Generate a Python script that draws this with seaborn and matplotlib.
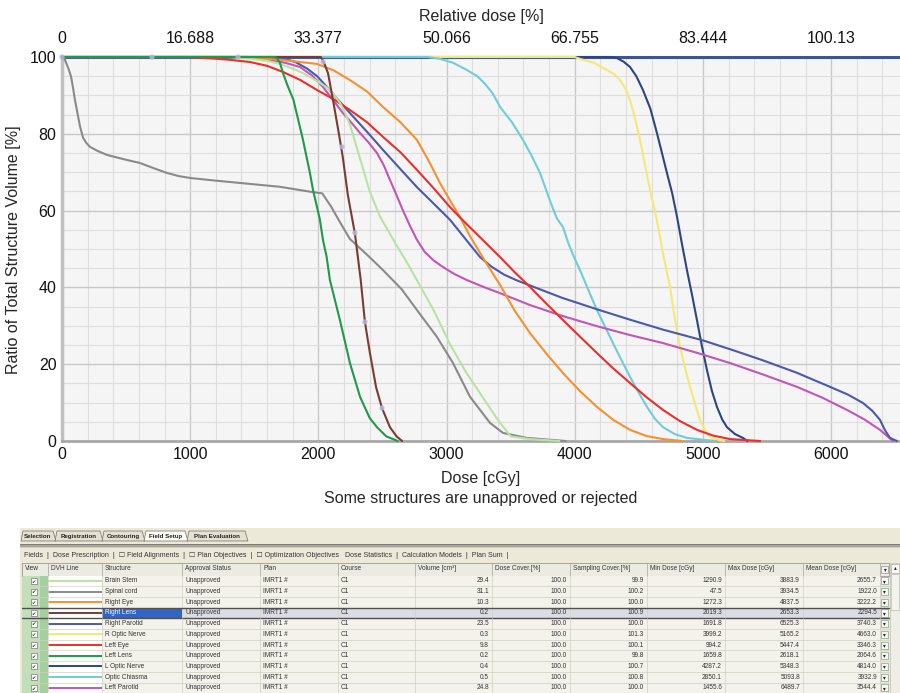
import matplotlib
matplotlib.use("Agg")
import pandas as pd
import matplotlib.pyplot as plt
import seaborn as sns
from matplotlib.patches import Rectangle, Polygon
from matplotlib.ticker import MultipleLocator

# ---------------- data ----------------
structures = ["Brain Stem", "Spinal cord", "Right Eye", "Right Lens", "Right Parotid",
              "R Optic Nerve", "Left Eye", "Left Lens", "L Optic Nerve", "Optic Chiasma",
              "Left Parotid"]
line_colors = ["#b9e2a5", "#8a8a8a", "#f7902f", "#7b3a35", "#4a58b0",
               "#f3e977", "#e8302c", "#1f9a48", "#2c4585", "#70cdd8", "#c455b5"]

brain_stem_dose = [0, 1290, 1450, 1600, 1700, 1800, 1880, 1950, 2010, 2070, 2120, 2170, 2210,
                   2250, 2290, 2330, 2400, 2480, 2600, 2700, 2800, 2900, 3030, 3150, 3280,
                   3400, 3500, 3650, 3880]
brain_stem_vol = [100, 100, 99.6, 99, 98.2, 97, 95.8, 94.5, 93.3, 92, 90.3, 88, 85.3,
                  82, 77.5, 73, 65, 58.5, 51.5, 46, 40, 34, 25, 18, 11.5,
                  5.5, 1.2, 0.5, 0]

spinal_cord_dose = [0, 20, 50, 70, 86, 100, 117, 140, 164, 190, 218, 280, 351, 480, 608, 719,
                    819, 910, 998, 1200, 1388, 1700, 1958, 2030, 2100, 2168, 2246, 2380, 2504,
                    2650, 2769, 2925, 3050, 3183, 3339, 3440, 3627, 3930]
spinal_cord_vol = [100, 99.5, 97, 95, 92, 89, 86, 82, 79, 77.6, 76.6, 75.5, 74.5, 73.4, 72.4, 71,
                   69.8, 69, 68.5, 67.8, 67.2, 66.2, 64.8, 64.5, 61, 57, 52.6, 48.5, 44.5,
                   39.5, 34.1, 27.1, 20.3, 11.5, 4.7, 2.1, 0.8, 0]

right_eye_dose = [0, 1272, 1500, 1724, 1989, 2120, 2246, 2380, 2504, 2640, 2769, 2860, 2948,
                  3030, 3105, 3180, 3261, 3340, 3420, 3530, 3651, 3780, 3908, 4040, 4173,
                  4300, 4431, 4560, 4688, 4838]
right_eye_vol = [100, 100, 99.8, 99.2, 98.2, 96.5, 94, 91, 87, 83, 78.4, 73, 67.2,
                 62.5, 58.3, 53.5, 49, 44.7, 40.5, 34, 28.1, 22.7, 17.7, 13, 8.9,
                 5.5, 2.9, 1.3, 0.5, 0]

right_lens_dose = [0, 2019, 2040, 2075, 2114, 2160, 2190, 2230, 2285, 2330, 2363, 2402, 2450,
                   2496, 2558, 2610, 2653]
right_lens_vol = [100, 100, 98.8, 95.8, 88.8, 80, 74, 64, 54, 42, 31, 22.9, 14,
                  8.6, 3.6, 1.2, 0]

right_parotid_dose = [0, 1692, 1724, 1820, 1911, 1990, 2067, 2150, 2246, 2380, 2504, 2640, 2769,
                      2900, 3027, 3150, 3261, 3350, 3450, 3550, 3651, 3900, 4173, 4430, 4688,
                      5000, 5230, 5468, 5730, 5991, 6130, 6248, 6320, 6381, 6420, 6459, 6513]
right_parotid_vol = [100, 100, 99.7, 98.7, 97, 95, 92.2, 89, 85.4, 80.5, 75.8, 70.8, 66.1,
                     61.8, 57.6, 52.5, 47.9, 45.4, 43.3, 41.8, 40.5, 37.3, 34.3, 31.6, 29,
                     26.2, 23.7, 21, 17.8, 14.1, 12.1, 9.9, 7.9, 5.5, 2.8, 0.8, 0]

r_optic_nerve_dose = [0, 3999, 4041, 4150, 4251, 4310, 4352, 4395, 4431, 4470, 4509, 4550, 4587,
                      4640, 4690, 4743, 4780, 4821, 4860, 4899, 4940, 4977, 5020, 5055, 5133,
                      5165]
r_optic_nerve_vol = [100, 100, 99.5, 98.5, 96.6, 95.5, 94, 91.8, 88.8, 84, 78.4, 71.5, 65.4,
                     57.6, 48.5, 40.1, 32, 24.5, 19, 14.1, 9.5, 5.5, 2.6, 1.0, 0.2,
                     0]

left_eye_dose = [0, 994, 1131, 1300, 1466, 1600, 1724, 1860, 1989, 2120, 2246, 2380, 2504,
                 2640, 2769, 2900, 3027, 3150, 3284, 3417, 3530, 3651, 3780, 3908, 4040,
                 4173, 4300, 4431, 4560, 4688, 4820, 4953, 5080, 5211, 5447]
left_eye_vol = [100, 100, 99.7, 99.3, 98.7, 97.7, 96.1, 94, 91.4, 89, 86.2, 83, 79.2,
                75.2, 70.6, 65.8, 60.9, 56.7, 52.3, 47.9, 44, 40.1, 35.7, 31.5, 27.2,
                22.9, 18.9, 15.1, 11.4, 8.1, 5.2, 2.9, 1.4, 0.5, 0]

left_lens_dose = [0, 1660, 1677, 1700, 1724, 1760, 1804, 1840, 1880, 1934, 1958, 2012, 2036,
                  2064, 2090, 2168, 2246, 2325, 2400, 2457, 2530, 2618]
left_lens_vol = [100, 100, 99.7, 98.5, 95.8, 92.5, 89, 84, 78.4, 69.8, 65.4, 57.6, 52.3,
                 48, 41.9, 31.5, 20.3, 11.5, 6, 3.6, 1.2, 0]

l_optic_nerve_dose = [0, 4287, 4330, 4380, 4431, 4480, 4532, 4590, 4641, 4680, 4719, 4760, 4797,
                      4835, 4875, 4915, 4953, 4990, 5031, 5070, 5109, 5150, 5187, 5250, 5312,
                      5348]
l_optic_nerve_vol = [100, 100, 99.7, 98.8, 97.4, 95, 91.4, 86.5, 80.2, 75, 69.8, 64.5, 58.5,
                     51.5, 44.5, 38, 31.5, 25, 18.5, 13, 8.9, 5.6, 3.6, 1.8, 0.8,
                     0]

optic_chiasma_dose = [0, 2850, 2950, 3050, 3159, 3240, 3300, 3360, 3417, 3510, 3596, 3660, 3729,
                      3770, 3807, 3860, 3908, 3950, 3986, 4041, 4110, 4173, 4240, 4298, 4365,
                      4431, 4500, 4563, 4625, 4688, 4780, 4875, 5093]
optic_chiasma_vol = [100, 100, 99.5, 98.5, 96.6, 95, 93, 90.5, 87, 83, 78.4, 74.5, 69.8,
                     66, 62.5, 58, 55.7, 51.5, 48.5, 44.5, 39, 34.1, 29.5, 25.5, 21,
                     16.7, 12.5, 8.9, 5.8, 3.6, 1.8, 0.8, 0]

left_parotid_dose = [0, 1456, 1540, 1622, 1740, 1856, 1950, 2036, 2110, 2192, 2260, 2325, 2390,
                     2457, 2510, 2558, 2610, 2660, 2715, 2767, 2830, 2900, 2972, 3060, 3159,
                     3290, 3417, 3651, 3900, 4173, 4430, 4688, 4950, 5211, 5470, 5733, 5930,
                     6123, 6260, 6381, 6482]
left_parotid_vol = [100, 100, 99.7, 99.2, 98.5, 97.4, 95.2, 92.2, 89, 85.4, 82.8, 80.2, 77.8,
                    75, 71.8, 68, 64, 60, 56, 52.5, 49.2, 47, 45.3, 43.5, 41.9,
                    40.1, 38.5, 35.4, 32.6, 29.9, 27.6, 25.5, 23, 20.3, 17.3, 14.1, 11.3,
                    8.1, 5.6, 2.9, 0]

# markers along the selected structure (Right Lens)
sel_marker_dose = [0, 702, 1373, 2036, 2184, 2285, 2363, 2496]
sel_marker_vol = [100, 100, 100, 98.7, 76.6, 54.2, 31, 8.6]

x_ticks = [0, 1000, 2000, 3000, 4000, 5000, 6000]
y_ticks = [0, 20, 40, 60, 80, 100]
top_tick_labels = ["0", "16.688", "33.377", "50.066", "66.755", "83.444", "100.13"]

# table values
approval = ["Unapproved"] * 11
plan_ids = ["IMRT1 #"] * 11
courses = ["C1"] * 11
volumes = ["29.4", "31.1", "10.3", "0.2", "23.5", "0.3", "9.8", "0.2", "0.4", "0.5", "24.8"]
dose_cover = ["100.0"] * 11
sampling_cover = ["99.9", "100.2", "100.0", "100.9", "100.0", "101.3", "100.1", "99.8",
                  "100.7", "100.8", "100.0"]
min_dose = ["1290.9", "47.5", "1272.3", "2019.3", "1691.8", "3999.2", "994.2", "1659.8",
            "4287.2", "2850.1", "1455.6"]
max_dose = ["3883.9", "3934.5", "4837.5", "2653.3", "6525.3", "5165.2", "5447.4", "2618.1",
            "5348.3", "5093.8", "6489.7"]
mean_dose = ["2655.7", "1922.0", "3222.2", "2294.5", "3740.3", "4663.0", "3346.3", "2064.6",
             "4814.0", "3932.9", "3544.4"]
selected_row = 3

dvh_dose = [brain_stem_dose, spinal_cord_dose, right_eye_dose, right_lens_dose,
            right_parotid_dose, r_optic_nerve_dose, left_eye_dose, left_lens_dose,
            l_optic_nerve_dose, optic_chiasma_dose, left_parotid_dose]
dvh_vol = [brain_stem_vol, spinal_cord_vol, right_eye_vol, right_lens_vol,
           right_parotid_vol, r_optic_nerve_vol, left_eye_vol, left_lens_vol,
           l_optic_nerve_vol, optic_chiasma_vol, left_parotid_vol]

rows = []
for name, d, v in zip(structures, dvh_dose, dvh_vol):
    for di, vi in zip(d, v):
        rows.append({"structure": name, "dose": di, "vol": vi})
df = pd.DataFrame(rows)
palette = dict(zip(structures, line_colors))
draw_order = ["L Optic Nerve", "R Optic Nerve", "Optic Chiasma", "Left Parotid",
              "Right Parotid", "Right Eye", "Left Eye", "Spinal cord", "Brain Stem",
              "Right Lens", "Left Lens"]

# ---------------- style ----------------
sns.set_style("white")
plt.rcParams["font.family"] = ["Liberation Sans", "DejaVu Sans"]

W, H = 900, 693
fig = plt.figure(figsize=(9, 6.93), dpi=100)
fig.patch.set_facecolor("white")

ax = fig.add_axes([62 / W, 1 - 441 / H, 838 / W, 384 / H])
ax.set_facecolor("#f5f5f5")
sns.lineplot(data=df, x="dose", y="vol", hue="structure", hue_order=draw_order,
             palette=palette, estimator=None, sort=False, linewidth=1.5,
             legend=False, ax=ax)
for ln in ax.lines:
    ln.set_clip_on(False)
    ln.set_zorder(3)
    ln.set_solid_joinstyle("round")
sns.scatterplot(x=sel_marker_dose, y=sel_marker_vol, color="#b4b4e0", s=14,
                edgecolor="none", alpha=0.85, zorder=4, ax=ax, clip_on=False)

ax.set_xlim(0, 6537)
ax.set_ylim(0, 100)
ax.set_xticks(x_ticks)
ax.set_yticks(y_ticks)
ax.xaxis.set_minor_locator(MultipleLocator(200))
ax.yaxis.set_minor_locator(MultipleLocator(5))
ax.grid(which="major", color="#c8c8c8", linewidth=1.0, zorder=0)
ax.grid(which="minor", color="#dedede", linewidth=0.8, zorder=0)
ax.set_axisbelow(True)
ax.tick_params(which="both", length=0, labelsize=11.5, colors="#111111")
ax.tick_params(axis="x", pad=4)
ax.tick_params(axis="y", pad=4)
ax.set_xlabel("")
ax.set_ylabel("")
ax.spines["top"].set_color("#3d5591")
ax.spines["top"].set_linewidth(2.2)
ax.spines["left"].set_color("#c0c0c0")
ax.spines["left"].set_linewidth(2.5)
ax.spines["bottom"].set_color("#a8a8a8")
ax.spines["bottom"].set_linewidth(2.0)
ax.spines["right"].set_visible(False)

sec = ax.secondary_xaxis("top")
sec.set_xticks(x_ticks, labels=top_tick_labels)
sec.tick_params(length=0, pad=8, labelsize=11.5, colors="#111111")
sec.spines["top"].set_visible(False)

fig.text(481 / W, 1 - 17 / H, "Relative dose [%]", ha="center", va="center", fontsize=11.5)
fig.text(481 / W, 1 - 478 / H, "Dose [cGy]", ha="center", va="center", fontsize=11.5)
fig.text(481 / W, 1 - 499 / H, "Some structures are unapproved or rejected",
         ha="center", va="center", fontsize=11.5)
fig.text(14 / W, 1 - 250 / H, "Ratio of Total Structure Volume [%]", ha="center",
         va="center", rotation=90, fontsize=11.5)

# ---------------- table panel (screen capture look) ----------------
T0 = 526
ta = fig.add_axes([0, 0, 1, (H - T0) / H])
ta.set_xlim(0, W)
ta.set_ylim(H, T0)
ta.axis("off")

fs = 4.7
ta.add_patch(Rectangle((20, 528), 880, 165, fc="#ece9d8", ec="none"))

# tabs
tabs = [("Selection", 21, 55), ("Registration", 55, 102), ("Contouring", 102, 144),
        ("Field Setup", 144, 187), ("Plan Evaluation", 187, 247)]
for i, (lab, x0, x1) in enumerate(tabs):
    active = lab == "Field Setup"
    poly = Polygon([(x0, 541), (x0 + 2, 531), (x1 - 2, 531), (x1 + 1, 541)],
                   closed=True, fc="#fbfaf4" if active else "#e4e1d0",
                   ec="#6e6e66", lw=0.5)
    ta.add_patch(poly)
    ta.text((x0 + x1) / 2, 536.5, lab, ha="center", va="center", fontsize=4.4,
            fontweight="bold", color="#222222")
ta.add_patch(Rectangle((20, 543.5), 880, 3.5, fc="#a8a699", ec="none"))
ta.plot([20, 900], [543.5, 543.5], color="#77766c", lw=0.6)
ta.plot([20, 900], [547, 547], color="#c8c6b8", lw=0.6)

toolbar = ("Fields  |  Dose Prescription  |  \u2610 Field Alignments  |  \u2610 Plan Objectives  |"
           "  \u2610 Optimization Objectives   Dose Statistics  |  Calculation Models  |  Plan Sum  |")
ta.text(24, 555.5, toolbar, ha="left", va="center", fontsize=5.05, color="#333333")

# columns
col_x = [22, 48, 102, 182, 260, 338, 415, 492, 570, 647, 725, 803, 880, 889]
headers = ["View", "DVH Line", "Structure", "Approval Status", "Plan", "Course",
           "Volume [cm\u00b3]", "Dose Cover.[%]", "Sampling Cover.[%]", "Min Dose [cGy]",
           "Max Dose [cGy]", "Mean Dose [cGy]", "\u25be"]
hy0, hy1 = 562.5, 575.5
ta.add_patch(Rectangle((22, hy0), 867, hy1 - hy0, fc="#ecebe2", ec="#8c8a80", lw=0.5))
for j, h in enumerate(headers):
    x0, x1 = col_x[j], col_x[j + 1]
    ta.plot([x0, x0], [hy0, hy1], color="#a8a69a", lw=0.5)
    if j == len(headers) - 1:
        ta.add_patch(Rectangle((x0 + 1, hy0 + 3), 7, 7, fc="#f4f4f4", ec="#7a7a7a", lw=0.4))
        ta.text((x0 + x1) / 2 + 0.5, (hy0 + hy1) / 2 + 0.5, h, ha="center", va="center",
                fontsize=4, color="#222222", family=["DejaVu Sans"])
    else:
        ta.text(x0 + 3, (hy0 + hy1) / 2, h, ha="left", va="center", fontsize=fs,
                color="#333333")

rh = 10.7
for i in range(len(structures)):
    y0 = hy1 + i * rh
    y1 = y0 + rh
    yc = (y0 + y1) / 2
    sel = i == selected_row
    base = "#dcdce4" if sel else "#f3f2eb"
    ta.add_patch(Rectangle((col_x[2], y0), col_x[-2] - col_x[2], rh, fc=base, ec="none"))
    # view column
    ta.add_patch(Rectangle((22, y0), 18, rh, fc="#c2dfba", ec="none"))
    ta.add_patch(Rectangle((40, y0), 8, rh, fc="#a6cf9f", ec="none"))
    ta.add_patch(Rectangle((31, yc - 3), 6, 6, fc="white", ec="#55605a", lw=0.4))
    ta.text(34, yc + 0.3, "\u2714", ha="center", va="center", fontsize=3.6,
            color="#2a2a2a", family=["DejaVu Sans"])
    # DVH line column
    ta.add_patch(Rectangle((48, y0), 54, rh, fc="white", ec="none"))
    ta.plot([48, 102], [yc, yc], color=line_colors[i], lw=1.4, solid_capstyle="butt")
    # structure cell
    if sel:
        ta.add_patch(Rectangle((col_x[2], y0), col_x[3] - col_x[2], rh, fc="#3164c4",
                               ec="none"))
    vals = [structures[i], approval[i], plan_ids[i], courses[i], volumes[i], dose_cover[i],
            sampling_cover[i], min_dose[i], max_dose[i], mean_dose[i]]
    for k, v in enumerate(vals):
        j = k + 2
        x0, x1 = col_x[j], col_x[j + 1]
        color = "white" if (sel and j == 2) else "#333333"
        if j >= 6:
            ta.text(x1 - 3, yc, v, ha="right", va="center", fontsize=fs, color=color)
        else:
            ta.text(x0 + 3, yc, v, ha="left", va="center", fontsize=fs, color=color)
    # dropdown cell
    ta.add_patch(Rectangle((col_x[-2] + 1, y0 + 1.8), 7, rh - 3.6, fc="#f6f6f6",
                           ec="#6f8f6f", lw=0.4))
    ta.text(col_x[-2] + 4.8, yc + 0.3, "\u25be", ha="center", va="center", fontsize=4,
            color="#222222", family=["DejaVu Sans"])
    # grid lines
    ta.plot([22, 889], [y1, y1], color="#d2d0c2", lw=0.5)
    for x in col_x[1:-1]:
        ta.plot([x, x], [y0, y1], color="#d2d0c2", lw=0.5)
    if sel:
        ta.plot([22, 889], [y0, y0], color="#505050", lw=1.0)
        ta.plot([22, 889], [y1, y1], color="#505050", lw=1.0)

# scrollbar
ta.add_patch(Rectangle((890, hy0), 10, H - hy0, fc="#eeede6", ec="#b8b6aa", lw=0.4))
ta.add_patch(Rectangle((891, hy0 + 1), 8, 9, fc="#f8f8f4", ec="#9a9a90", lw=0.4))
ta.text(895, hy0 + 5.5, "\u25b4", ha="center", va="center", fontsize=4, color="#222222",
        family=["DejaVu Sans"])
ta.add_patch(Rectangle((891, hy0 + 11), 8, 36, fc="#f4f4ee", ec="#b0b0a6", lw=0.4))

fig.savefig("out.png", dpi=100)
